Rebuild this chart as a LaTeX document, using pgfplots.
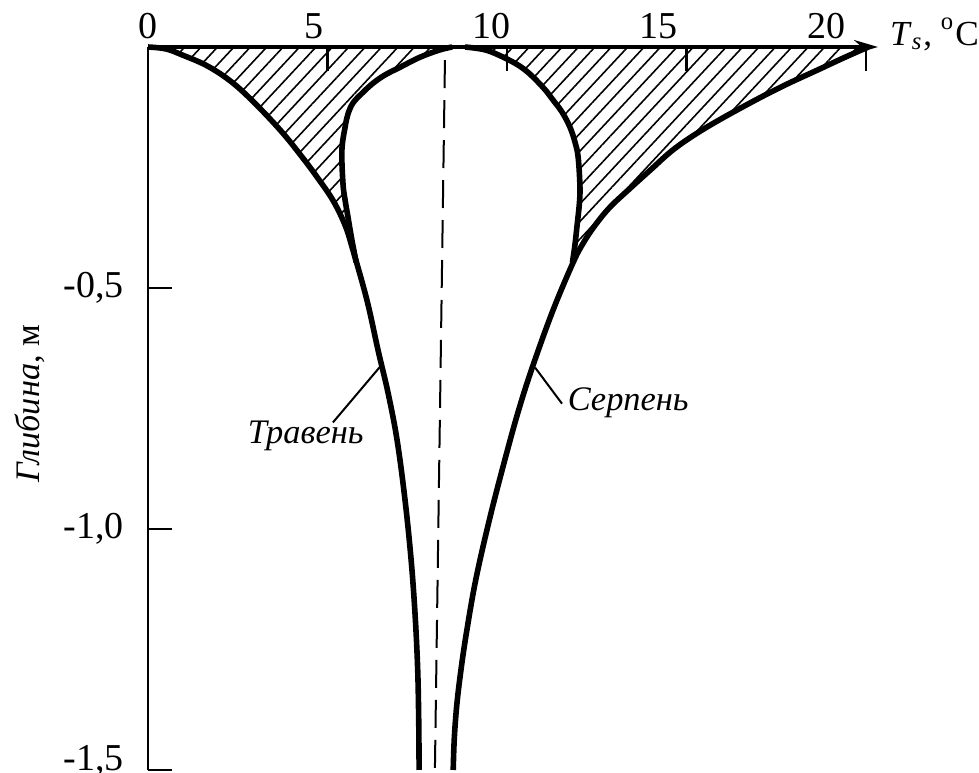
\documentclass[border=0pt]{standalone}
\usepackage{fontspec}
\setmainfont{Liberation Serif}
\usepackage{pgfplots}
\pgfplotsset{compat=1.18}
\usetikzlibrary{arrows.meta,patterns.meta}

\begin{document}
\begin{tikzpicture}
% page frame
\path[use as bounding box] (-37pt,-0.75pt) rectangle (207.75pt,192.5pt);
\begin{axis}[
  at={(0,0)}, anchor=south west,
  scale only axis, width=182.5pt, height=180.75pt,
  xmin=0, xmax=20.33, ymin=-1.5, ymax=0,
  clip=false,
  axis x line*=top, axis y line*=left,
  x axis line style={line width=0.8pt, -{Stealth[length=6pt,width=3.5pt]}},
  y axis line style={line width=0.5pt},
  font=\fontsize{9.5}{11}\selectfont,
  tick align=inside,
  major tick length=6pt,
  xtick={0,5,10,15,20},
  xticklabels={{},{},{},{},{}},
  extra x ticks={0,4.61,9.57,14.23,18.9},
  extra x tick labels={0,5,10,15,20},
  extra x tick style={tick style={draw=none}},
  xticklabel style={yshift=-1.4pt},
  ytick={-1.5,-1,-0.5},
  yticklabels={{\raisebox{6pt}{-1,5}},{-1,0},{-0,5}},
  yticklabel style={xshift=-2.5pt},
  tick style={line width=0.6pt, black},
  xlabel={\fontsize{8.8}{10}\selectfont\textit{T}\textsubscript{\textit{s}}, \textsuperscript{o}C},
  every axis x label/.style={at={(axis description cs:1,1)}, anchor=base west, yshift=0.5pt, xshift=-0.5pt},
  ylabel={\fontsize{8.6}{10}\selectfont\textit{Глибина}, м},
  every axis y label/.style={at={(axis description cs:-0.1616,0.507)}, rotate=90, anchor=center},
]

% daily range in May (hatched)
\addplot[draw=none, pattern={Lines[angle=47,distance=3pt,line width=0.4pt]}] coordinates {
  (0,0) (0.50,-0.004) (0.97,-0.017) (1.67,-0.040) (2.37,-0.075) (3.06,-0.123)
  (3.76,-0.179) (4.32,-0.231) (4.71,-0.270) (5.15,-0.318) (5.49,-0.370)
  (5.71,-0.422) (5.80,-0.447)
  (5.68,-0.401) (5.57,-0.353) (5.49,-0.318) (5.43,-0.283) (5.40,-0.214)
  (5.49,-0.166) (5.57,-0.139) (5.71,-0.116) (5.96,-0.096) (6.27,-0.075)
  (6.60,-0.058) (7.02,-0.042) (7.58,-0.021) (8.13,-0.006) (8.47,0)
} -- cycle;

% daily range in August (hatched)
\addplot[draw=none, pattern={Lines[angle=47,distance=3pt,line width=0.4pt]}] coordinates {
  (8.83,0) (9.39,-0.006) (9.89,-0.021) (10.36,-0.040) (10.72,-0.062)
  (11.11,-0.093) (11.28,-0.110) (11.53,-0.135) (11.75,-0.166) (11.89,-0.197)
  (11.98,-0.229) (12.03,-0.291) (12.01,-0.328) (11.95,-0.370) (11.89,-0.411)
  (11.82,-0.447)
  (12.12,-0.407) (12.45,-0.370) (12.87,-0.332) (13.43,-0.293) (13.98,-0.256)
  (14.68,-0.210) (15.57,-0.166) (16.77,-0.116) (17.74,-0.079) (18.64,-0.048)
  (19.42,-0.021) (20.06,0)
} -- cycle;

% mean annual temperature
\addplot[line width=0.5pt, dash pattern=on 7pt off 3pt] coordinates {(8.27,-0.027) (7.99,-1.5)};

% May, daily minimum and deep profile
\addplot[line width=1.4pt, smooth, tension=0.6] coordinates {
  (0,0) (0.50,-0.004) (0.97,-0.017) (1.67,-0.040) (2.37,-0.075) (3.06,-0.123)
  (3.76,-0.179) (4.32,-0.231) (4.71,-0.270) (5.15,-0.318) (5.49,-0.370)
  (5.71,-0.422) (6.10,-0.526) (6.41,-0.630) (6.69,-0.719) (6.94,-0.817)
  (7.16,-0.941) (7.33,-1.066) (7.44,-1.180) (7.51,-1.290) (7.54,-1.400) (7.55,-1.5)
};
% May, daily maximum
\addplot[line width=1.4pt, smooth, tension=0.6] coordinates {
  (8.47,0) (8.13,-0.006) (7.58,-0.021) (7.02,-0.042) (6.60,-0.058) (6.27,-0.075)
  (5.96,-0.096) (5.71,-0.116) (5.57,-0.139) (5.49,-0.166) (5.40,-0.214)
  (5.43,-0.283) (5.49,-0.318) (5.57,-0.353) (5.68,-0.401) (5.80,-0.447)
};
% August, daily minimum
\addplot[line width=1.4pt, smooth, tension=0.6] coordinates {
  (8.83,0) (9.39,-0.006) (9.89,-0.021) (10.36,-0.040) (10.72,-0.062)
  (11.11,-0.093) (11.28,-0.110) (11.53,-0.135) (11.75,-0.166) (11.89,-0.197)
  (11.98,-0.229) (12.03,-0.291) (12.01,-0.328) (11.95,-0.370) (11.89,-0.411)
  (11.82,-0.447)
};
% August, daily maximum and deep profile
\addplot[line width=1.4pt, smooth, tension=0.6] coordinates {
  (20.06,0) (19.42,-0.021) (18.64,-0.048) (17.74,-0.079) (16.77,-0.116)
  (15.57,-0.166) (14.68,-0.210) (13.98,-0.256) (13.43,-0.293) (12.87,-0.332)
  (12.45,-0.370) (12.12,-0.407) (11.84,-0.447) (11.28,-0.546) (10.72,-0.661)
  (10.36,-0.744) (10.03,-0.831) (9.55,-0.968) (9.14,-1.101) (8.88,-1.210)
  (8.72,-1.290) (8.60,-1.365) (8.53,-1.435) (8.50,-1.5)
};

% curve labels
\draw[line width=0.5pt] (axis cs:5.15,-0.779) -- (axis cs:6.49,-0.661);
\node[anchor=base west, inner sep=0pt, font=\fontsize{8.6}{10}\selectfont\itshape] at (axis cs:2.76,-0.823) {Травень};
\draw[line width=0.5pt] (axis cs:10.78,-0.665) -- (axis cs:11.53,-0.740);
\node[anchor=base west, inner sep=0pt, font=\fontsize{8.6}{10}\selectfont\itshape] at (axis cs:11.67,-0.754) {Серпень};
\end{axis}
\end{tikzpicture}
\end{document}
